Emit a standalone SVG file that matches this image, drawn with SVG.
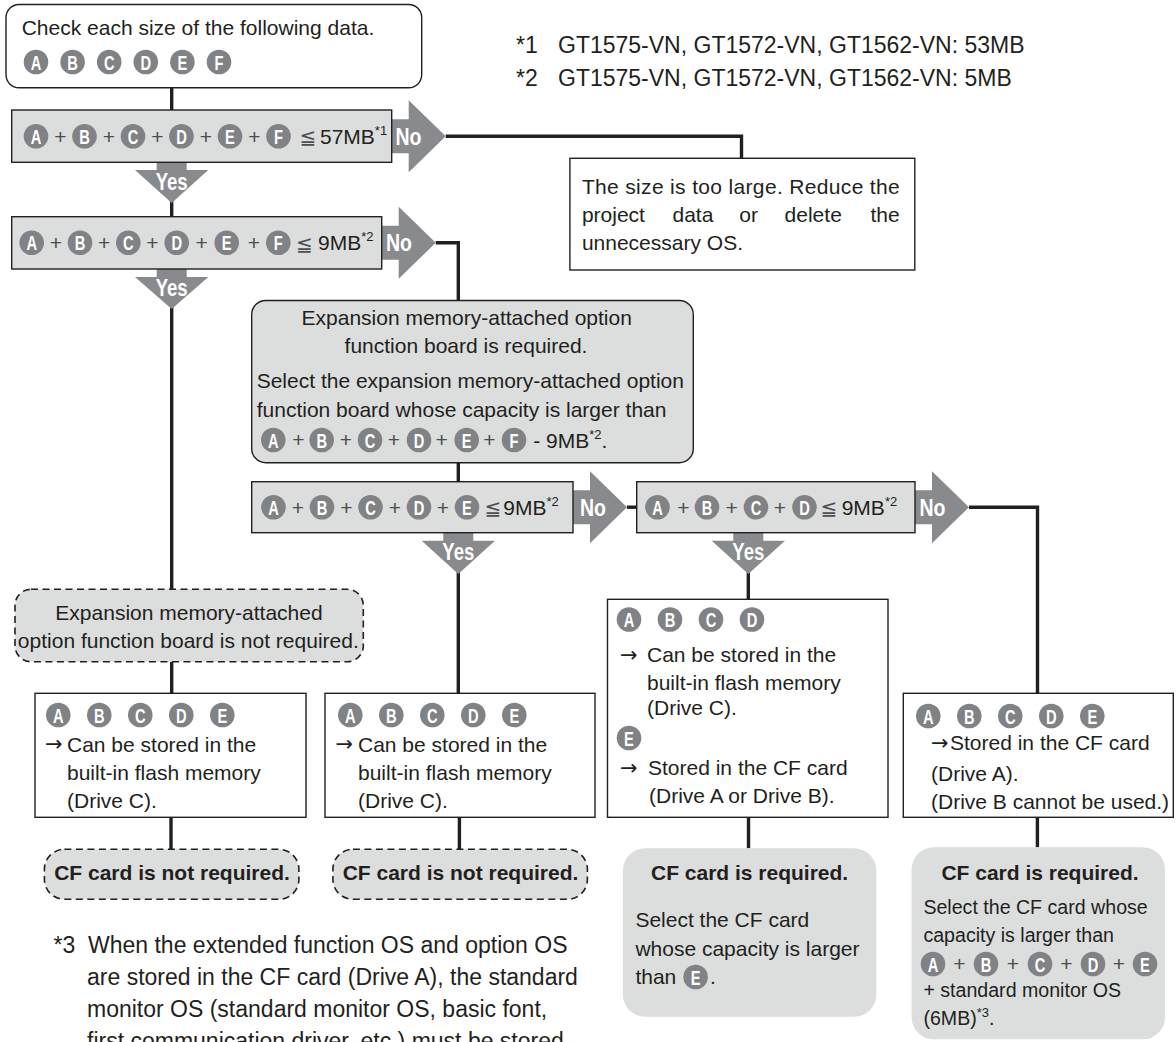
<svg xmlns="http://www.w3.org/2000/svg" xmlns:xlink="http://www.w3.org/1999/xlink" width="1176" height="1042" viewBox="0 0 1176 1042">
<style>
text{font-family:"Liberation Sans",Arial,sans-serif;fill:#231f20}
.t{font-size:21px}
.fn{font-size:23px}
.s{font-size:19.6px}
.bd{font-weight:bold}
.m{text-anchor:middle}
.e{text-anchor:end}
.box{fill:#fff;stroke:#231f20;stroke-width:1.4}
.bar{fill:#dcdddd;stroke:#231f20;stroke-width:1.4}
.dash{fill:#dcdddd;stroke:#231f20;stroke-width:1.6;stroke-dasharray:7 4.5}
.gr{fill:#dcdddd}
.con{fill:none;stroke:#231f20;stroke-width:3.4}
.ar{fill:#898a8d}
.lb{font-weight:bold;fill:#fff;font-size:23px;text-anchor:middle}
.cc{fill:#808285}
.cl{font-weight:bold;fill:#fff;font-size:21px;text-anchor:middle}
.pl{font-size:21px;fill:#4d4d4f;text-anchor:middle}
.le{font-family:"DejaVu Sans",sans-serif;font-size:20px;fill:#4d4d4f}
.sup{font-size:13px}
.ra{font-family:"DejaVu Sans",sans-serif;font-size:21px}
</style>
<defs>
<g id="cA"><circle class="cc" r="12.3"/><text class="cl" y="7.5" transform="scale(0.7,1)">A</text></g>
<g id="cB"><circle class="cc" r="12.3"/><text class="cl" y="7.5" transform="scale(0.7,1)">B</text></g>
<g id="cC"><circle class="cc" r="12.3"/><text class="cl" y="7.5" transform="scale(0.7,1)">C</text></g>
<g id="cD"><circle class="cc" r="12.3"/><text class="cl" y="7.5" transform="scale(0.7,1)">D</text></g>
<g id="cE"><circle class="cc" r="12.3"/><text class="cl" y="7.5" transform="scale(0.7,1)">E</text></g>
<g id="cF"><circle class="cc" r="12.3"/><text class="cl" y="7.5" transform="scale(0.7,1)">F</text></g>
</defs>

<g id="connectors">
<path class="con" d="M171.7 87.7V110"/>
<path class="con" d="M171.7 200V216.7"/>
<path class="con" d="M445.7 136.2H741.5V158.3"/>
<path class="con" d="M171.7 305V589.3"/>
<path class="con" d="M435.7 242.8H458.3V300.5"/>
<path class="con" d="M458.3 462.7V481.7"/>
<path class="con" d="M627 507.2H636.7"/>
<path class="con" d="M458.3 570V693.3"/>
<path class="con" d="M748.3 570V599.3"/>
<path class="con" d="M969 507.2H1037.5V693.3"/>
<path class="con" d="M171.7 661.7V693.3"/>
<path class="con" d="M171 817.3V849.3"/>
<path class="con" d="M459.4 817.3V849.3"/>
<path class="con" d="M748.5 817.3V848.3"/>
<path class="con" d="M1037.4 817.3V847.3"/>
<polygon class="ar" points="391.7,119.2 408.7,119.2 408.7,100.2 445.7,136.2 408.7,172.2 408.7,153.2 391.7,153.2"/>
<text class="lb" x="408.5" y="144.5" textLength="26" lengthAdjust="spacingAndGlyphs">No</text>
<polygon class="ar" points="381.7,225.8 398.7,225.8 398.7,206.8 435.7,242.8 398.7,278.8 398.7,259.8 381.7,259.8"/>
<text class="lb" x="399" y="251" textLength="26" lengthAdjust="spacingAndGlyphs">No</text>
<polygon class="ar" points="573,490.2 590,490.2 590,471.2 627,507.2 590,543.2 590,524.2 573,524.2"/>
<text class="lb" x="593" y="515.5" textLength="26" lengthAdjust="spacingAndGlyphs">No</text>
<polygon class="ar" points="915,490.2 932,490.2 932,471.2 969,507.2 932,543.2 932,524.2 915,524.2"/>
<text class="lb" x="932.5" y="515.5" textLength="26" lengthAdjust="spacingAndGlyphs">No</text>
<polygon class="ar" points="156.7,162.3 186.7,162.3 186.7,170 208.3,170 171.7,203 135,170 156.7,170"/>
<text class="lb" x="171.7" y="190" textLength="32" lengthAdjust="spacingAndGlyphs">Yes</text>
<polygon class="ar" points="156.7,269 186.7,269 186.7,277 208.3,277 171.7,309 135,277 156.7,277"/>
<text class="lb" x="171.7" y="296" textLength="32" lengthAdjust="spacingAndGlyphs">Yes</text>
<polygon class="ar" points="443.3,532.7 473.3,532.7 473.3,540.7 495,540.7 458.3,574 421.7,540.7 443.3,540.7"/>
<text class="lb" x="458.3" y="560" textLength="32" lengthAdjust="spacingAndGlyphs">Yes</text>
<polygon class="ar" points="733.3,532.7 763.3,532.7 763.3,540.7 785,540.7 748.3,574 711.7,540.7 733.3,540.7"/>
<text class="lb" x="748.3" y="560" textLength="32" lengthAdjust="spacingAndGlyphs">Yes</text>
</g>

<g id="start">
<rect class="box" x="6" y="4.5" width="415.7" height="83.2" rx="13"/>
<text class="t" x="21.7" y="35">Check each size of the following data.</text>
<use href="#cA" x="36" y="62"/><use href="#cB" x="72.6" y="62"/><use href="#cC" x="109.2" y="62"/>
<use href="#cD" x="145.8" y="62"/><use href="#cE" x="182.4" y="62"/><use href="#cF" x="219" y="62"/>
</g>

<g id="notes12">
<text class="fn" x="516" y="53">*1</text><text class="fn" x="558" y="53">GT1575-VN, GT1572-VN, GT1562-VN: 53MB</text>
<text class="fn" x="516" y="86">*2</text><text class="fn" x="558" y="86">GT1575-VN, GT1572-VN, GT1562-VN: 5MB</text>
</g>

<g id="check57">
<rect class="bar" x="11.7" y="110" width="380" height="52.3"/>
<use href="#cA" x="36" y="136.2"/><use href="#cB" x="84.5" y="136.2"/><use href="#cC" x="133" y="136.2"/>
<use href="#cD" x="181.5" y="136.2"/><use href="#cE" x="230" y="136.2"/><use href="#cF" x="278.5" y="136.2"/>
<text class="pl" x="60.3" y="143.5">+</text><text class="pl" x="108.8" y="143.5">+</text><text class="pl" x="157.3" y="143.5">+</text>
<text class="pl" x="205.8" y="143.5">+</text><text class="pl" x="254.3" y="143.5">+</text>
<text class="le" x="299.5" y="144">≦</text>
<text class="t" x="320" y="143.5">57MB<tspan class="sup" dy="-9">*1</tspan></text>
</g>

<g id="toolarge">
<rect class="box" x="569.9" y="158.3" width="344.9" height="111.7"/>
<text class="t" x="581.9" y="194" textLength="317.8" lengthAdjust="spacing">The size is too large. Reduce the</text>
<text class="t" x="581.9" y="222">project</text><text class="t" x="672.5" y="222">data</text><text class="t" x="739.3" y="222">or</text><text class="t" x="784.6" y="222">delete</text><text class="t e" x="899.7" y="222">the</text>
<text class="t" x="581.9" y="250">unnecessary OS.</text>
</g>

<g id="check9a">
<rect class="bar" x="11.7" y="216.7" width="370" height="52.3"/>
<use href="#cA" x="31.7" y="242.8"/><use href="#cB" x="80" y="242.8"/><use href="#cC" x="128.3" y="242.8"/>
<use href="#cD" x="176.7" y="242.8"/><use href="#cE" x="226.7" y="242.8"/><use href="#cF" x="278.3" y="242.8"/>
<text class="pl" x="55.8" y="250">+</text><text class="pl" x="104.2" y="250">+</text><text class="pl" x="152.5" y="250">+</text>
<text class="pl" x="201.7" y="250">+</text><text class="pl" x="254" y="250">+</text>
<text class="le" x="296" y="250.5">≦</text>
<text class="t" x="318" y="250">9MB<tspan class="sup" dy="-9">*2</tspan></text>
</g>

<g id="expansion">
<rect class="bar" x="251.7" y="300.5" width="441.6" height="162.2" rx="14"/>
<text class="t m" x="466.7" y="325">Expansion memory-attached option</text>
<text class="t m" x="466" y="353">function board is required.</text>
<text class="t" x="256.7" y="388">Select the expansion memory-attached option</text>
<text class="t" x="256.7" y="416.5">function board whose capacity is larger than</text>
<use href="#cA" x="273.3" y="440"/><use href="#cB" x="321.7" y="440"/><use href="#cC" x="370" y="440"/>
<use href="#cD" x="419" y="440"/><use href="#cE" x="466.7" y="440"/><use href="#cF" x="514" y="440"/>
<text class="pl" x="298.3" y="447.3">+</text><text class="pl" x="346" y="447.3">+</text><text class="pl" x="394" y="447.3">+</text>
<text class="pl" x="441.7" y="447.3">+</text><text class="pl" x="489.3" y="447.3">+</text>
<text class="t" x="533.3" y="447.5">- 9MB<tspan class="sup" dy="-9">*2</tspan><tspan dy="9">.</tspan></text>
</g>

<g id="check9b">
<rect class="bar" x="251.7" y="481.7" width="321.3" height="51"/>
<use href="#cA" x="273.5" y="507.2"/><use href="#cB" x="322" y="507.2"/><use href="#cC" x="370.5" y="507.2"/>
<use href="#cD" x="419" y="507.2"/><use href="#cE" x="467" y="507.2"/>
<text class="pl" x="298" y="514.5">+</text><text class="pl" x="346.3" y="514.5">+</text><text class="pl" x="394.8" y="514.5">+</text><text class="pl" x="443" y="514.5">+</text>
<text class="le" x="484.5" y="515">≦</text>
<text class="t" x="503.3" y="514.5">9MB<tspan class="sup" dy="-9">*2</tspan></text>
</g>

<g id="check9c">
<rect class="bar" x="636.7" y="481.7" width="278.3" height="51"/>
<use href="#cA" x="657.5" y="507.2"/><use href="#cB" x="707" y="507.2"/><use href="#cC" x="756" y="507.2"/><use href="#cD" x="804.5" y="507.2"/>
<text class="pl" x="683.3" y="514.5">+</text><text class="pl" x="731.7" y="514.5">+</text><text class="pl" x="780" y="514.5">+</text>
<text class="le" x="820.5" y="515">≦</text>
<text class="t" x="841.7" y="514.5">9MB<tspan class="sup" dy="-9">*2</tspan></text>
</g>

<g id="notrequired">
<rect class="dash" x="15" y="589.3" width="348.3" height="72.4" rx="16"/>
<text class="t m" x="189" y="620">Expansion memory-attached</text>
<text class="t m" x="188.3" y="648.3">option function board is not required.</text>
</g>

<g id="store1">
<rect class="box" x="35" y="693.3" width="271" height="124"/>
<use href="#cA" x="58.3" y="715"/><use href="#cB" x="99.3" y="715"/><use href="#cC" x="140.3" y="715"/><use href="#cD" x="181.3" y="715"/><use href="#cE" x="222.3" y="715"/>
<text class="ra" x="45" y="751">→</text>
<text class="t" x="67" y="751.7">Can be stored in the</text>
<text class="t" x="67" y="780">built-in flash memory</text>
<text class="t" x="67" y="808.3">(Drive C).</text>
</g>

<g id="store2">
<rect class="box" x="325" y="693.3" width="270" height="124"/>
<use href="#cA" x="350.3" y="715"/><use href="#cB" x="391.3" y="715"/><use href="#cC" x="432.3" y="715"/><use href="#cD" x="473.3" y="715"/><use href="#cE" x="514.3" y="715"/>
<text class="ra" x="335.5" y="751">→</text>
<text class="t" x="358" y="751.7">Can be stored in the</text>
<text class="t" x="358" y="780">built-in flash memory</text>
<text class="t" x="358" y="808.3">(Drive C).</text>
</g>

<g id="store3">
<rect class="box" x="607.5" y="599.3" width="280.5" height="218"/>
<use href="#cA" x="629" y="619.5"/><use href="#cB" x="670" y="619.5"/><use href="#cC" x="711" y="619.5"/><use href="#cD" x="752" y="619.5"/>
<text class="ra" x="620" y="661.5">→</text>
<text class="t" x="647" y="662">Can be stored in the</text>
<text class="t" x="647" y="689.5">built-in flash memory</text>
<text class="t" x="647" y="715">(Drive C).</text>
<use href="#cE" x="629" y="738"/>
<text class="ra" x="620" y="774.5">→</text>
<text class="t" x="648" y="775">Stored in the CF card</text>
<text class="t" x="649" y="803">(Drive A or Drive B).</text>
</g>

<g id="store4">
<rect class="box" x="903.3" y="693.3" width="270" height="124"/>
<use href="#cA" x="928.3" y="716"/><use href="#cB" x="969.3" y="716"/><use href="#cC" x="1010.3" y="716"/><use href="#cD" x="1051.3" y="716"/><use href="#cE" x="1092.3" y="716"/>
<text class="ra" x="931" y="749.5">→</text>
<text class="t" x="950" y="750">Stored in the CF card</text>
<text class="t" x="931" y="781">(Drive A).</text>
<text class="t" x="931" y="809">(Drive B cannot be used.)</text>
</g>

<g id="cfno1">
<rect class="dash" x="44.4" y="849.3" width="254.5" height="50" rx="20"/>
<text class="t bd m" x="172" y="880">CF card is not required.</text>
</g>

<g id="cfno2">
<rect class="dash" x="332.9" y="849.3" width="254.5" height="50" rx="20"/>
<text class="t bd m" x="460.5" y="880">CF card is not required.</text>
</g>

<g id="cfyes1">
<rect class="gr" x="622.9" y="848.3" width="253.4" height="168.4" rx="22"/>
<text class="t bd m" x="749.6" y="880">CF card is required.</text>
<text class="t" x="635.4" y="927">Select the CF card</text>
<text class="t" x="635.4" y="955.5">whose capacity is larger</text>
<text class="t" x="635.4" y="984">than</text>
<use href="#cE" x="695.6" y="977"/>
<text class="t" x="710" y="984">.</text>
</g>

<g id="cfyes2">
<rect class="gr" x="911.6" y="847.3" width="253.4" height="192" rx="22"/>
<text class="t bd m" x="1040" y="880">CF card is required.</text>
<text class="s" x="923.4" y="914">Select the CF card whose</text>
<text class="s" x="923.4" y="942">capacity is larger than</text>
<use href="#cA" x="933" y="964"/><use href="#cB" x="986" y="964"/><use href="#cC" x="1040" y="964"/><use href="#cD" x="1093" y="964"/><use href="#cE" x="1145" y="964"/>
<text class="pl" x="959.5" y="971.3">+</text><text class="pl" x="1013" y="971.3">+</text><text class="pl" x="1066.5" y="971.3">+</text><text class="pl" x="1119" y="971.3">+</text>
<text class="s" x="923.4" y="997">+ standard monitor OS</text>
<text class="s" x="923.4" y="1025">(6MB)<tspan class="sup" dy="-8">*3</tspan><tspan dy="8">.</tspan></text>
</g>

<g id="note3">
<text class="fn" x="53.6" y="953">*3</text>
<text class="fn" x="88" y="953">When the extended function OS and option OS</text>
<text class="fn" x="87" y="985">are stored in the CF card (Drive A), the standard</text>
<text class="fn" x="87" y="1017">monitor OS (standard monitor OS, basic font,</text>
<text class="fn" x="87" y="1049">first communication driver, etc.) must be stored</text>
</g>
</svg>
